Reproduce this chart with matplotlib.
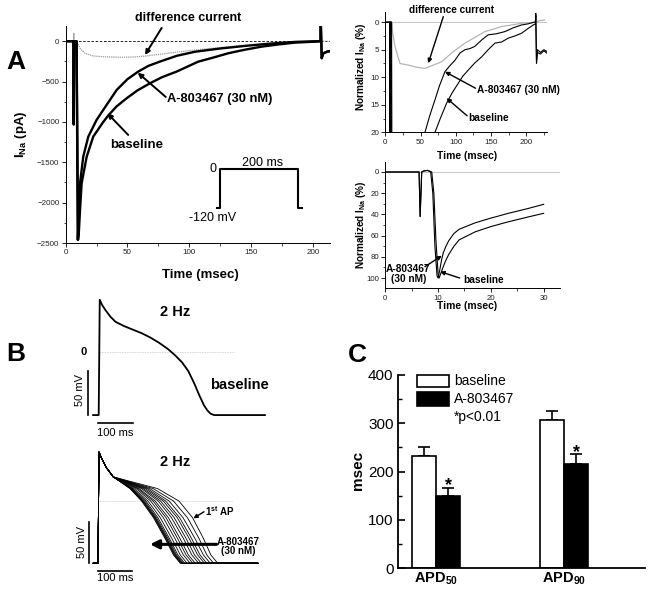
import matplotlib
matplotlib.use('Agg')
import matplotlib.pyplot as plt
from matplotlib.patches import Rectangle
from matplotlib.ticker import MultipleLocator

plt.rcParams['font.family'] = ['Liberation Sans', 'DejaVu Sans']
plt.rcParams['mathtext.default'] = 'regular'

# ---------------- data ----------------
# Panel A main: I_Na (pA) vs time (ms)
a_t = [0, 6.3, 6.5, 6.8, 8.8, 9.8, 10.6, 11.6, 14.2, 18.3, 25, 30.4, 41.3, 50, 58.7, 67, 76.3, 90,
       104.6, 125, 145, 165, 185.5, 202, 206.3, 206.6, 207.3, 208.5, 212, 217]
a_i = [0, 0, -1030, 0, 0, -2460, -2150, -1760, -1430, -1182, -975, -851, -603, -470, -376, -305, -252, -180,
       -130, -90, -58, -30, -8, 0, 0, 200, -210, -150, -128, -115]
b_t = [0, 6.3, 6.5, 6.8, 8.8, 10.0, 10.6, 11.6, 12.9, 17, 22.3, 30.4, 34.5, 41, 49.3, 58, 68.2, 78, 89.8,
       107.3, 120, 131.6, 145, 158.6, 172, 185.5, 202, 206.3, 206.6, 207.3, 208.5, 212, 217]
b_i = [0, 0, -1030, 0, 0, -2460, -2380, -2090, -1760, -1430, -1182, -1000, -920, -810, -707, -610, -521, -445, -376,
       -253, -200, -149, -105, -67, -40, -17, -5, 0, 200, -210, -150, -128, -115]
d_t = [0, 6.5, 6.6, 6.7, 6.8, 8.5, 9.5, 11.6, 15.6, 22.3, 30, 44, 55, 65.5, 76.3, 90, 100, 115, 130, 145,
       160, 175, 190, 205, 210, 217]
d_i = [0, 0, 100, -1040, 0, 0, -20, -87, -149, -182, -192, -198, -195, -182, -161, -135, -115, -92, -70, -52,
       -35, -22, -10, -3, 0, 0]
proto_t = [-8, 0, 0, 200, 200, 210]
proto_v = [-120, -120, 0, 0, -120, -120]

# Panel A top-right: normalized (%), 0-229 ms
n1a_t = [0, 6.3, 6.6, 6.9, 8.8, 9.8, 11, 56.3, 63, 70.5, 77, 84.6, 91, 98.9, 106, 113, 120, 127, 137, 146,
         158, 170, 182, 193.5, 203, 211, 213, 213.5, 214.5, 216, 220, 225, 229]
n1a_y = [0, 0, 42, 0, 0, 100, 75, 20, 17, 14.1, 11.5, 9, 8, 6.9, 5.6, 5, 4.8, 4.4, 3.2, 2.3,
         2.1, 1.7, 1.0, 0.5, 0.3, 0, 0, -1.6, 7.5, 5.5, 5.8, 5.2, 5.6]
n1b_t = [0, 6.3, 6.6, 6.9, 8.8, 10.0, 11, 70.5, 78, 87, 95, 103.5, 110, 117.7, 127, 136.7, 146, 155.6, 165,
         174.5, 184, 193.5, 202, 210, 213, 213.5, 214.5, 216, 220, 225, 229]
n1b_y = [0, 0, 42, 0, 0, 100, 85, 20, 17.5, 14.7, 12.8, 11.1, 9.8, 8.7, 7.4, 6.3, 5, 3.8, 3.6,
         2.9, 2.5, 2, 1.2, 0.5, 0.3, -1.2, 7, 5, 5.5, 5.0, 5.3]
n1d_t = [0, 6.5, 9.5, 10.5, 13.8, 20.8, 32.6, 45, 56.3, 68, 80, 94, 113, 128, 141.4, 155, 165, 180, 193.5,
         205, 213, 220, 226]
n1d_y = [0, 0, 0, 2, 4.4, 7.5, 7.8, 8.2, 8.4, 7.8, 7.2, 5.6, 3.8, 2.7, 1.7, 1.2, 0.8, 0.5, 0.2,
         0.1, 0, -0.3, -0.4]

# Panel A bottom-right: normalized (%), 0-30 ms
n2a_t = [0, 6.4, 6.6, 6.9, 7.3, 8.0, 8.6, 9.0, 9.4, 9.8, 10.0, 10.3, 10.7, 11.0, 11.5, 12, 13, 14, 17, 20,
         23.3, 27, 30]
n2a_y = [0, 0, 42, 0, -1, -1.5, 0, 20, 70, 98, 100, 93, 82, 76, 70, 65, 58, 54, 48, 43.5,
         39, 34.5, 30.5]
n2b_t = [0, 6.4, 6.6, 6.9, 7.3, 8.0, 8.8, 9.2, 9.6, 10.0, 10.2, 10.5, 11, 11.5, 12, 13, 14, 17, 20,
         23.3, 27, 30]
n2b_y = [0, 0, 42, 0, -1, -1.5, 0, 20, 65, 96, 100, 96, 89, 83, 78, 70, 64, 56.5, 51.5,
         47, 42.5, 39]

# Panel B top: baseline action potential (ms, mV)
ap_t = [-14, 2, 5, 12, 20, 35, 50, 75, 100, 125, 150, 175, 200, 220, 240, 258, 275, 290, 303, 313, 322,
        332, 350, 477]
ap_v = [-72, -72, 59, 53, 48, 40, 34, 29, 25, 21, 16, 10, 3, -4, -12, -22, -36, -50, -61, -67, -70.5,
        -72, -72, -72]

# Panel B bottom: train of APs at 2 Hz with A-803467
early_t = [-14, 0, 3, 10, 25, 45]
early_v = [-75, -75, 59, 52, 40, 29]
late_v = [15, 0, -20, -45, -65, -75]
t15 = [94, 95, 97, 98, 100, 102, 106, 112, 117, 121, 128, 133, 139, 145, 152, 162, 175]
t0 = [128, 130, 132, 134, 137, 141, 147, 155, 162, 168, 177, 184, 192, 199, 209, 222, 238]
t20 = [163, 165, 167, 169, 172, 176, 183, 192, 200, 207, 216, 224, 233, 240, 250, 263, 278]
t45 = [197, 199, 201, 203, 206, 210, 217, 226, 234, 241, 251, 259, 268, 275, 285, 297, 310]
t65 = [222, 224, 226, 228, 231, 235, 242, 251, 259, 266, 276, 284, 293, 300, 310, 320, 332]
t75 = [242, 244, 246, 248, 251, 255, 262, 271, 279, 286, 296, 304, 313, 320, 330, 340, 352]
end_t = 470

# Panel C
categories = ['APD$_{50}$', 'APD$_{90}$']
baseline_vals = [233, 306]
baseline_err = [17, 20]
drug_vals = [150, 215]
drug_err = [17, 21]

# ---------------- figure ----------------
W, H = 652, 595
fig = plt.figure(figsize=(W / 100, H / 100), dpi=100)


def box(l, t, r, b):
    return [l / W, 1 - b / H, (r - l) / W, (b - t) / H]


def style_axes(ax, lw=0.7, size=5.8):
    ax.patch.set_visible(False)
    for s in ['top', 'right']:
        ax.spines[s].set_visible(False)
    for s in ['left', 'bottom']:
        ax.spines[s].set_linewidth(lw)
    ax.tick_params(which='major', direction='out', length=3, width=0.6, labelsize=size, pad=1.5,
                   labelcolor='#222222')
    ax.tick_params(which='minor', direction='out', length=1.8, width=0.5)


BOLD = dict(fontweight='bold')

# ---- Panel A main ----
ax = fig.add_axes(box(65.7, 26, 330, 243))
ax.set_xlim(0, 214)
ax.set_ylim(-2500, 189)
style_axes(ax)
ax.xaxis.set_major_locator(MultipleLocator(50))
ax.xaxis.set_minor_locator(MultipleLocator(25))
ax.yaxis.set_major_locator(MultipleLocator(500))
ax.yaxis.set_minor_locator(MultipleLocator(250))
ax.axhline(0, color='k', lw=0.6, ls=(0, (3, 2)))
ax.plot(d_t, d_i, color='#9a9a9a', lw=0.9, ls=(0, (1, 0.7)))
ax.plot(b_t, b_i, color='k', lw=1.7)
ax.plot(a_t, a_i, color='k', lw=1.7)
ax.set_xlabel('Time (msec)', fontsize=9.5, **BOLD)
ax.set_ylabel('I$_{Na}$ (pA)', fontsize=9.5, **BOLD)
ax.xaxis.set_label_coords(0.508, -0.12)
ax.yaxis.set_label_coords(-0.139, 0.5)
arw = dict(arrowstyle='-|>', color='k', lw=1.4, mutation_scale=7, shrinkA=0, shrinkB=0)
ax.text(99, 285, 'difference current', ha='center', va='center', fontsize=9, clip_on=False, **BOLD)
ax.annotate('', xy=(64.2, -170), xytext=(77.7, 165), arrowprops=arw, annotation_clip=False)
ax.text(81.7, -719, 'A-803467 (30 nM)', ha='left', va='center', fontsize=9.3, **BOLD)
ax.annotate('', xy=(58.3, -389), xytext=(81.0, -690), arrowprops=arw)
ax.text(36.4, -1285, 'baseline', ha='left', va='center', fontsize=9.5, **BOLD)
ax.annotate('', xy=(33.7, -892), xytext=(50.6, -1161), arrowprops=arw)

# protocol inset
axp = fig.add_axes(box(200, 155, 320, 225))
axp.set_xlim(-51.5, 257.4)
axp.set_ylim(-172.3, 43)
axp.axis('off')
axp.plot(proto_t, proto_v, color='k', lw=1.5)
axp.text(-18, 0, '0', ha='center', va='center', fontsize=9)
axp.text(110, 18.5, '200 ms', ha='center', va='center', fontsize=9)
axp.text(-18, -150.8, '-120 mV', ha='center', va='center', fontsize=9)

# ---- Panel A top-right ----
ax1 = fig.add_axes(box(385.3, 11.7, 546.7, 132.3))
ax1.set_xlim(0, 229)
ax1.set_ylim(20, -1.9)
style_axes(ax1, size=5.8)
ax1.xaxis.set_major_locator(MultipleLocator(50))
ax1.xaxis.set_minor_locator(MultipleLocator(25))
ax1.yaxis.set_major_locator(MultipleLocator(5))
ax1.yaxis.set_minor_locator(MultipleLocator(2.5))
ax1.axhline(0, color='#bbbbbb', lw=0.6)
ax1.plot(n1d_t, n1d_y, color='#b5b5b5', lw=0.9)
ax1.plot(n1b_t, n1b_y, color='k', lw=0.8)
ax1.plot(n1a_t, n1a_y, color='k', lw=0.8)
ax1.set_xlabel('Time (msec)', fontsize=7.4, **BOLD)
ax1.set_ylabel('Normalized I$_{Na}$ (%)', fontsize=7.2, **BOLD)
ax1.xaxis.set_label_coords(0.506, -0.151)
ax1.yaxis.set_label_coords(-0.107, 0.541)
arw2 = dict(arrowstyle='-|>', color='k', lw=1.0, mutation_scale=6, shrinkA=0, shrinkB=0)
ax1.text(94, -2.24, 'difference current', ha='center', va='center', fontsize=7.2, clip_on=False, **BOLD)
ax1.annotate('', xy=(61, 7.45), xytext=(82.3, -1.0), arrowprops=arw2, annotation_clip=False)
ax1.text(129.6, 12.3, 'A-803467 (30 nM)', ha='left', va='center', fontsize=7.3, **BOLD)
ax1.annotate('', xy=(84.7, 9.0), xytext=(128, 12.0), arrowprops=arw2)
ax1.text(117.7, 17.4, 'baseline', ha='left', va='center', fontsize=7.3, **BOLD)
ax1.annotate('', xy=(87, 13.8), xytext=(116, 17.0), arrowprops=arw2)

# ---- Panel A bottom-right ----
ax2 = fig.add_axes(box(385.3, 161.7, 560, 288.3))
ax2.set_xlim(0, 33.1)
ax2.set_ylim(109.7, -9.7)
style_axes(ax2, size=5.6)
ax2.xaxis.set_major_locator(MultipleLocator(10))
ax2.xaxis.set_minor_locator(MultipleLocator(5))
ax2.yaxis.set_major_locator(MultipleLocator(20))
ax2.yaxis.set_minor_locator(MultipleLocator(10))
ax2.axhline(0, color='#bbbbbb', lw=0.6)
ax2.plot(n2b_t, n2b_y, color='k', lw=0.8)
ax2.plot(n2a_t, n2a_y, color='k', lw=0.8)
ax2.set_xlabel('Time (msec)', fontsize=7.4, **BOLD)
ax2.set_ylabel('Normalized I$_{Na}$ (%)', fontsize=7.2, **BOLD)
ax2.xaxis.set_label_coords(0.468, -0.1)
ax2.yaxis.set_label_coords(-0.099, 0.5)
ax2.text(4.36, 96.2, 'A-803467\n(30 nM)', ha='center', va='center', fontsize=7.3, linespacing=0.95, **BOLD)
ax2.annotate('', xy=(10.7, 79), xytext=(7.5, 89.3), arrowprops=arw2)
ax2.text(14.7, 101.9, 'baseline', ha='left', va='center', fontsize=7.3, **BOLD)
ax2.annotate('', xy=(10.4, 94), xytext=(14.1, 100), arrowprops=arw2)

# ---- Panel B top ----
bx1 = fig.add_axes(box(75, 293, 280, 445))
bx1.set_xlim(-65.7, 520)
bx1.set_ylim(-106, 66.7)
bx1.axis('off')
bx1.plot([0, 391], [0, 0], color='#c8c8c8', lw=0.6, ls=(0, (1, 1)))
bx1.plot(ap_t, ap_v, color='k', lw=1.3)
bx1.plot([-27.7, -27.7], [-72, -22], color='k', lw=1.2)
bx1.plot([0, 100], [-81.4, -81.4], color='k', lw=1.2)
bx1.text(220, 45.1, '2 Hz', ha='center', va='center', fontsize=10.5, **BOLD)
bx1.text(402.9, -37.8, 'baseline', ha='center', va='center', fontsize=10.5, **BOLD)
bx1.text(-40.9, 0, '0', ha='center', va='center', fontsize=8, **BOLD)
bx1.text(-51.4, -43.5, '50 mV', ha='center', va='center', rotation=90, fontsize=8)
bx1.text(48.6, -92, '100 ms', ha='center', va='center', fontsize=8)

# ---- Panel B bottom ----
bx2 = fig.add_axes(box(75, 445, 280, 590))
bx2.set_xlim(-67.6, 535.3)
bx2.set_ylim(-107.2, 67.47)
bx2.axis('off')
bx2.plot([0, 393], [0, 0], color='#c8c8c8', lw=0.6, ls=(0, (1, 1)))
for i in range(len(t45)):
    tt = early_t + [t15[i], t0[i], t20[i], t45[i], t65[i], t75[i]] + [end_t]
    vv = early_v + late_v + [-75]
    bx2.plot(tt, vv, color='k', lw=0.6)
bx2.plot([-25.6, -25.6], [-75, -25], color='k', lw=1.2)
bx2.plot([0, 100], [-84, -84], color='k', lw=1.2)
bx2.text(226.5, 47, '2 Hz', ha='center', va='center', fontsize=10.5, **BOLD)
bx2.text(314.7, -11.7, '1$^{st}$ AP', ha='left', va='center', fontsize=7, **BOLD)
bx2.annotate('', xy=(280.4, -20.9), xytext=(311.8, -12.9), arrowprops=arw2)
bx2.text(412.6, -55, 'A-803467\n(30 nM)', ha='center', va='center', fontsize=7, linespacing=0.95, **BOLD)
bx2.annotate('', xy=(153, -52.2), xytext=(349, -52.2),
             arrowprops=dict(arrowstyle='-|>', color='k', lw=2.2, mutation_scale=13, shrinkA=0, shrinkB=0))
bx2.text(-47.9, -49, '50 mV', ha='center', va='center', rotation=90, fontsize=8)
bx2.text(50, -92.8, '100 ms', ha='center', va='center', fontsize=8)

# ---- Panel C ----
cx = fig.add_axes(box(397.7, 375, 645, 568.3))
cx.patch.set_visible(False)
cx.set_xlim(-0.299, 1.633)
cx.set_ylim(0, 400)
for s in ['top', 'right']:
    cx.spines[s].set_visible(False)
for s in ['left', 'bottom']:
    cx.spines[s].set_linewidth(1.3)
bw = 0.19
xs = [0, 1]
xb = [x - bw / 2 for x in xs]
xd = [x + bw / 2 for x in xs]
cx.bar(xb, baseline_vals, width=bw, color='white', edgecolor='k', lw=1.2, zorder=2)
cx.bar(xd, drug_vals, width=bw, color='black', edgecolor='k', lw=1.2, zorder=2)
cx.errorbar(xb, baseline_vals, yerr=[[0, 0], baseline_err], fmt='none', ecolor='k', elinewidth=1.2,
            capsize=4.3, capthick=1.2, zorder=1)
cx.errorbar(xd, drug_vals, yerr=[[0, 0], drug_err], fmt='none', ecolor='k', elinewidth=1.2,
            capsize=4.3, capthick=1.2, zorder=1)
for x, v, e in zip(xd, drug_vals, drug_err):
    cx.text(x, v + e - 5, '*', ha='center', va='baseline', fontsize=13, **BOLD)
cx.set_yticks([0, 100, 200, 300, 400])
cx.yaxis.set_minor_locator(MultipleLocator(50))
cx.tick_params(axis='y', which='major', direction='in', length=5, width=1.2, labelsize=11, pad=3)
cx.tick_params(axis='y', which='minor', direction='in', length=3, width=1.0)
cx.set_xticks(xs)
cx.set_xticklabels(categories, fontsize=10.5, fontweight='bold')
cx.tick_params(axis='x', length=0, pad=2)
cx.set_ylabel('msec', fontsize=11, **BOLD)
cx.yaxis.set_label_coords(-0.132, 0.508)
cx.add_patch(Rectangle((0.0768, 0.936), 0.132, 0.0636, transform=cx.transAxes, facecolor='white',
                       edgecolor='k', lw=1.2, clip_on=False))
cx.add_patch(Rectangle((0.0768, 0.840), 0.132, 0.072, transform=cx.transAxes, facecolor='black',
                       edgecolor='k', lw=1.2, clip_on=False))
cx.text(0.2277, 0.969, 'baseline', transform=cx.transAxes, ha='left', va='center', fontsize=10)
cx.text(0.2277, 0.876, 'A-803467', transform=cx.transAxes, ha='left', va='center', fontsize=10)
cx.text(0.2277, 0.783, '*p<0.01', transform=cx.transAxes, ha='left', va='center', fontsize=10)

# panel letters
fig.text(16 / W, 1 - 62 / H, 'A', fontsize=19, ha='center', va='center', **BOLD)
fig.text(16 / W, 1 - 354 / H, 'B', fontsize=19, ha='center', va='center', **BOLD)
fig.text(357 / W, 1 - 355 / H, 'C', fontsize=19, ha='center', va='center', **BOLD)

fig.savefig('out.png', dpi=100)
